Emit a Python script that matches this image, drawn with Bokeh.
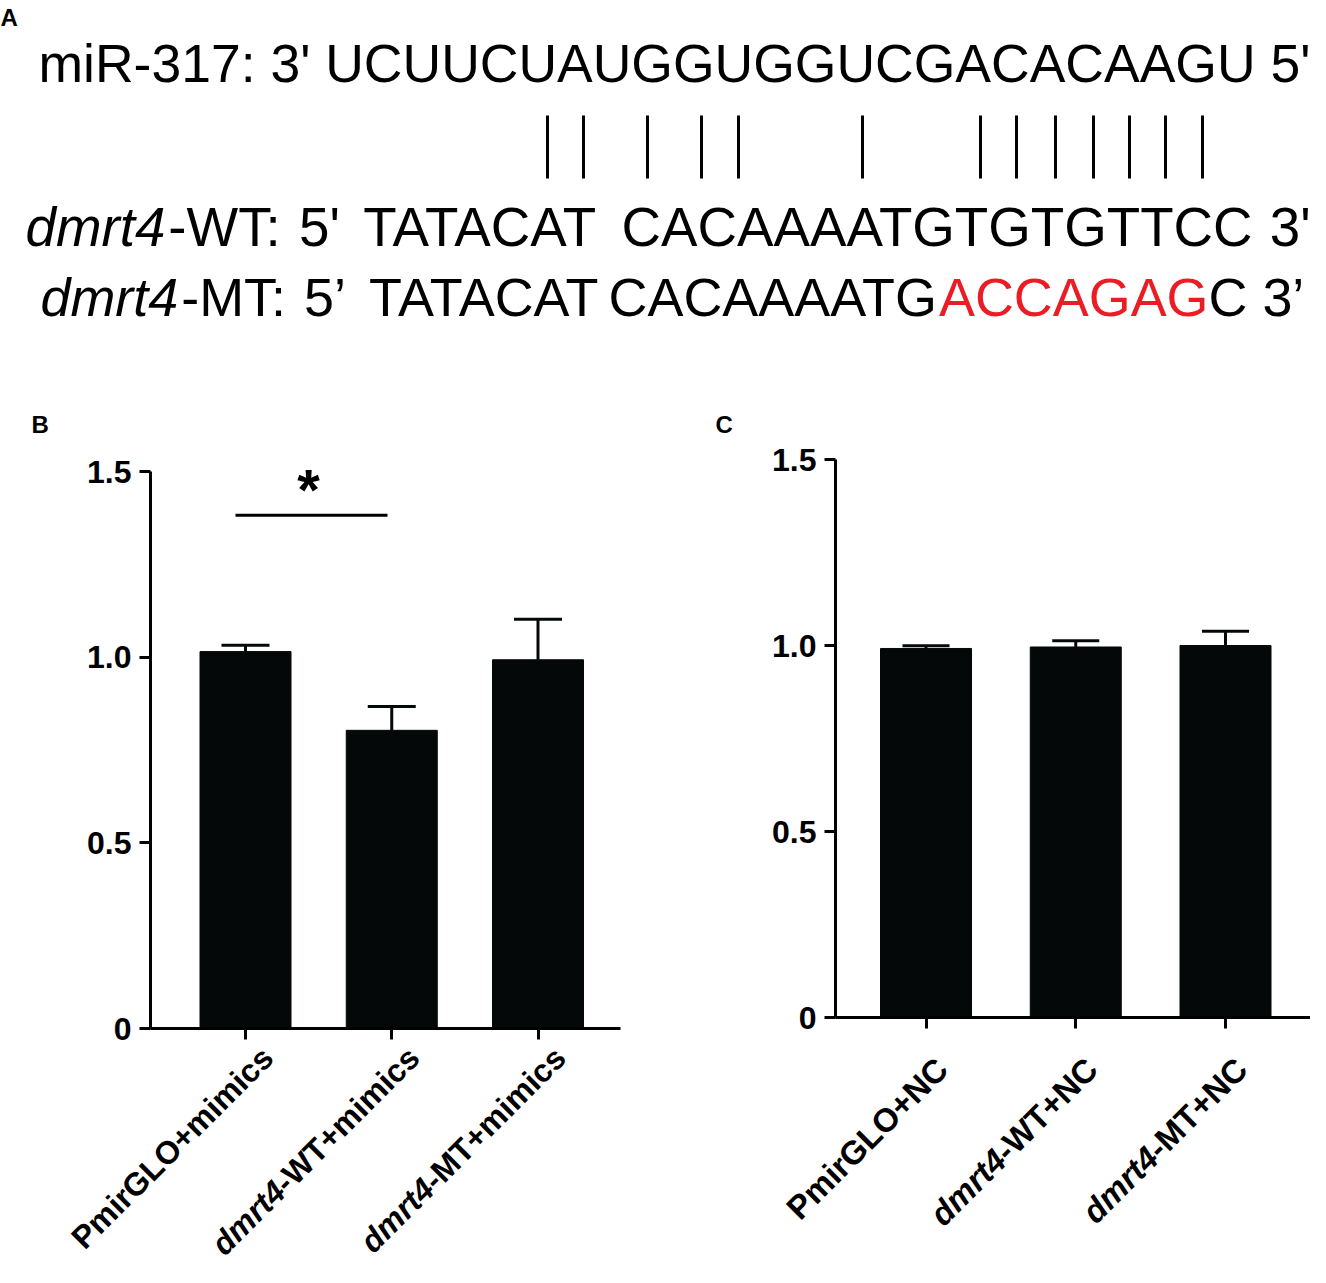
import math
from bokeh.plotting import figure
from bokeh.models import Range1d, FixedTicker, Label
from bokeh.layouts import column, row
from bokeh.core.properties import value
from bokeh.embed import file_html
from bokeh.resources import INLINE

FONT = "Liberation Sans"
BAR = "#050808"
RED = "#EC1C24"

# ---------------- data ----------------
mir_line = "miR-317: 3' UCUUCUAUGGUGGUCGACACAAGU 5'"
gene = "dmrt4"
# (text, style, colour) pieces of the two target lines
wt_pieces = [(gene, "italic", "black"), ("-WT:", "normal", "black"), (" ", "normal", None),
             ("5'", "normal", "black"), (" ", "normal", None), ("TATACAT", "normal", "black"),
             (" ", "normal", None), ("CACAAAATGTGTGTTCC", "normal", "black"),
             (" ", "normal", None), ("3'", "normal", "black")]
mt_pieces = [(gene, "italic", "black"), ("-MT:", "normal", "black"), (" ", "normal", None),
             ("5\u2019", "normal", "black"), (" ", "normal", None), ("TATACAT", "normal", "black"),
             ("CACAAAATG", "normal", "black"), ("ACCAGAG", "normal", RED),
             ("C 3\u2019", "normal", "black")]
pair_x = [547, 583, 647, 701, 738, 862, 980, 1016, 1055, 1093, 1129, 1165, 1202]

cats_b = ["PmirGLO+mimics", "dmrt4-WT+mimics", "dmrt4-MT+mimics"]
mean_b = [1.015, 0.803, 0.993]
err_b = [0.017, 0.064, 0.109]

cats_c = ["PmirGLO+NC", "dmrt4-WT+NC", "dmrt4-MT+NC"]
mean_c = [0.992, 0.996, 1.000]
err_c = [0.007, 0.017, 0.038]

y_ticks = [0, 0.5, 1.0, 1.5]
y_tick_labels = {0: "0", 0.5: "0.5", 1.0: "1.0", 1.5: "1.5"}

sig_pair = (0, 1)
sig_level = 1.382
sig_text = "*"

# Arial / Liberation Sans advance widths (em)
REG = {' ': .278, "'": .191, '\u2019': .222, ':': .278, '-': .333, '+': .584,
       '0': .556, '1': .556, '3': .556, '4': .556, '5': .556, '7': .556,
       'A': .667, 'C': .722, 'G': .778, 'T': .611, 'U': .722, 'M': .833,
       'W': .944, 'R': .722, 'd': .556, 'm': .833, 'r': .333, 't': .278, 'i': .222}
BOLD = {'-': .333, 'W': .944, 'T': .611, '+': .584, 'm': .889, 'i': .278,
        'c': .556, 's': .556, 'M': .833, 'N': .722, 'C': .722, 'P': .667,
        'r': .389, 'G': .778, 'L': .611, 'O': .778}


def tw(s, size, table=REG):
    return sum(table.get(ch, 0.556) for ch in s) * size


TOP_H = 380
BOT_H = 887

# ---------------- panel A ----------------
pa = figure(width=1310, height=TOP_H, x_range=Range1d(0, 1310), y_range=Range1d(TOP_H, 0),
            output_backend="svg", toolbar_location=None, min_border=0)
pa.axis.visible = False
pa.grid.visible = False
pa.outline_line_color = None


def seq_text(x, y, txt, size, style="normal", color="black", align="left"):
    pa.text(x=[x], y=[y], text=[txt], text_font=value(FONT), text_font_size=f"{size}px",
            text_font_style=style, text_color=color, text_baseline="middle",
            text_align=align)


seq_text(0, 16.5, "A", 24, "bold")
seq_text(38, 63, mir_line, 53.5)

pa.segment(x0=pair_x, y0=[115] * len(pair_x), x1=pair_x, y1=[178] * len(pair_x),
           line_width=3, line_color="black")


def seq_line(x0, yc, size, pieces):
    x = x0
    for txt, style, color in pieces:
        w = tw(txt, size)
        if color is not None:
            seq_text(x + w / 2, yc, txt, size, style, color, align="center")
        x += w


seq_line(25, 226.5, 54.7, wt_pieces)
seq_line(40, 296.5, 53.9, mt_pieces)


# ---------------- bar panels ----------------
def bar_panel(cats, means, errs, fig_left, width, y0_ref, y15_ref, cx0_ref, kx,
              axis_left_ref, axis_right_ref, letter, letter_ref, lab_off, cap_px, fs):
    ky = (y0_ref - y15_ref) / 1.5
    px2x = lambda X: (X - cx0_ref) / kx
    px2y = lambda Y: (y0_ref - Y) / ky
    p = figure(width=width, height=BOT_H,
               x_range=Range1d(px2x(fig_left), px2x(fig_left + width)),
               y_range=Range1d(px2y(TOP_H + BOT_H), px2y(TOP_H)),
               output_backend="svg", toolbar_location=None, min_border=0)
    p.grid.visible = False
    p.outline_line_color = None
    idx = list(range(len(cats)))
    p.vbar(x=idx, top=means, width=91 / kx, fill_color=BAR, line_color=BAR)
    tops = [m + e for m, e in zip(means, errs)]
    half = cap_px / 2 / kx
    p.segment(x0=idx, y0=means, x1=idx, y1=tops, line_width=3, line_color=BAR)
    p.segment(x0=[i - half for i in idx], y0=tops, x1=[i + half for i in idx],
              y1=tops, line_width=3, line_color=BAR)

    xl, xr = px2x(axis_left_ref), px2x(axis_right_ref)
    for ax in (p.xaxis[0], p.yaxis[0]):
        ax.axis_line_width = 3
        ax.axis_line_color = "black"
        ax.major_tick_line_width = 3
        ax.major_tick_line_color = "black"
        ax.major_tick_out = 11
        ax.major_tick_in = 0
        ax.minor_tick_line_color = None
        ax.major_label_text_color = "black"
    ya = p.yaxis[0]
    ya.fixed_location = xl
    ya.bounds = (0, 1.5)
    ya.ticker = FixedTicker(ticks=y_ticks)
    ya.major_label_overrides = y_tick_labels
    ya.major_label_text_font = FONT
    ya.major_label_text_font_size = "32px"
    ya.major_label_text_font_style = "bold"
    ya.major_label_standoff = 8
    xa = p.xaxis[0]
    xa.fixed_location = 0
    xa.bounds = (xl, xr)
    xa.ticker = FixedTicker(ticks=idx)
    xa.major_label_overrides = {i: "" for i in idx}

    c45 = math.cos(math.radians(45))
    dx, dy = lab_off
    for i, name in enumerate(cats):
        ex = i + dx / kx
        ey = px2y(y0_ref + dy)
        common = dict(angle=45, angle_units="deg", text_align="right",
                      text_baseline="middle", text_font=FONT, text_font_size=f"{fs}px",
                      text_color="black")
        if name.startswith(gene):
            rest = name[len(gene):]
            p.add_layout(Label(x=ex, y=ey, text=rest, text_font_style="bold", **common))
            sh = tw(rest, fs, BOLD)
            p.add_layout(Label(x=ex - sh * c45 / kx, y=ey - sh * c45 / ky, text=gene,
                               text_font_style="bold italic", **common))
        else:
            p.add_layout(Label(x=ex, y=ey, text=name, text_font_style="bold", **common))
    lx, ly = letter_ref
    p.add_layout(Label(x=px2x(lx), y=px2y(ly), text=letter, text_font=FONT,
                       text_font_size="24px", text_font_style="bold", text_color="black",
                       text_baseline="middle", text_align="left"))
    return p, px2x, px2y


pb, bx, by = bar_panel(cats_b, mean_b, err_b, 0, 690, 1028, 471, 245, 146.25,
                       150, 620, "B", (31, 424), (22, 24), 48, 32)
# significance annotation
a, b = sig_pair
pb.segment(x0=[bx(235)], y0=[sig_level], x1=[bx(387)], y1=[sig_level],
           line_width=3, line_color="black")
pb.add_layout(Label(x=bx(308), y=by(489), text=sig_text, text_color="black",
                    text_align="center", text_baseline="middle",
                    text_font=FONT, text_font_size="58px", text_font_style="bold"))

pc, cx, cy = bar_panel(cats_c, mean_c, err_c, 690, 620, 1017, 459, 925.5, 149.75,
                       835, 1310, "C", (715, 424), (16, 46), 47, 33)

layout = column(pa, row(pb, pc))
open("out.html", "w").write(file_html(layout, INLINE))
